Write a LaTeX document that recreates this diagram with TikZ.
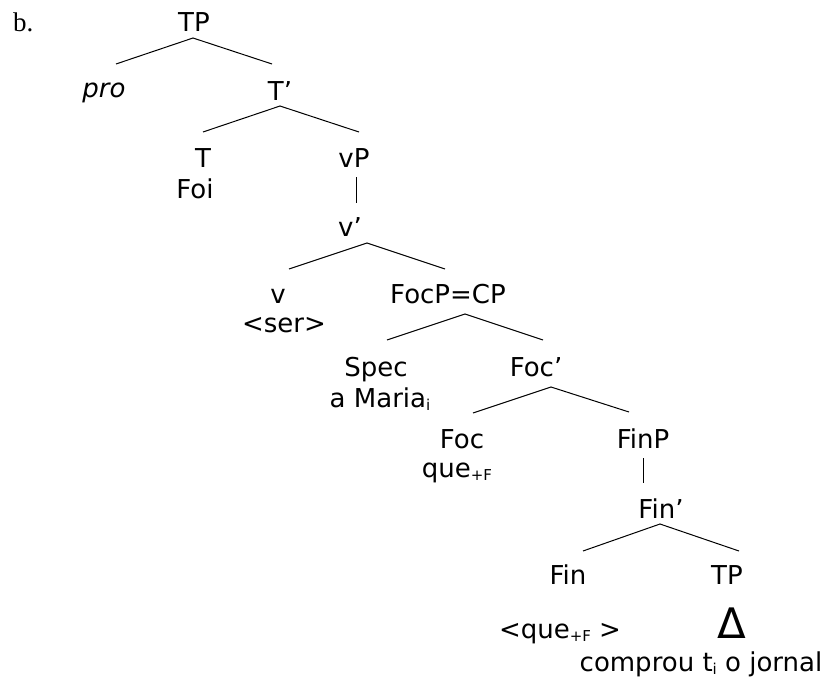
\documentclass[tikz,border=0pt]{standalone}
\usepackage{fontspec}
\setmainfont{DejaVu Sans}
\newfontfamily\exserif{Liberation Serif}
\newcommand{\lsub}[1]{\raisebox{-3.5pt}{\fontsize{15}{15}\selectfont #1}}
\begin{document}
\begin{tikzpicture}[x=1pt,y=1pt,
  lab/.style={anchor=base,inner sep=0pt,font=\fontsize{26}{31}\selectfont},
  edge/.style={line width=1pt}]
\useasboundingbox (0,0) rectangle (835,-683);
% labels
\node[anchor=base west,inner sep=0pt,font=\exserif\fontsize{27}{31}\selectfont] (ex) at (13,-31) {b.};
\node[lab] (TP) at (194,-31) {TP};
\node[lab] (pro) at (104,-97) {\itshape pro};
\node[lab] (Tbar) at (280,-100) {T’};
\node[lab] (T) at (203,-167) {T};
\node[lab] (Foi) at (195,-198) {Foi};
\node[lab] (vP) at (354,-167) {vP};
\node[lab] (vbar) at (350,-236) {v’};
\node[lab] (v) at (278,-303) {v};
\node[lab] (ser) at (284,-332) {<ser>};
\node[lab] (FocP) at (448,-303) {FocP=CP};
\node[lab] (Spec) at (376,-376) {Spec};
\node[lab] (Maria) at (380,-407) {a Maria\lsub{i}};
\node[lab] (Focbar) at (536,-376) {Foc’};
\node[lab] (Foc) at (462,-448) {Foc};
\node[lab] (que) at (457,-477) {que\lsub{+F}};
\node[lab] (FinP) at (643,-448) {FinP};
\node[lab] (Finbar) at (661,-518) {Fin’};
\node[lab] (Fin) at (568,-584) {Fin};
\node[lab] (TPb) at (727,-584) {TP};
\node[lab] (que2) at (560,-638) {<que\lsub{+F} >};
\node[lab,font=\fontsize{42}{46}\selectfont] (Delta) at (732,-638) {Δ};
\node[lab] (comp) at (701,-671) {comprou t\lsub{i} o jornal};
% branches
\draw[edge] ([shift={(12,33)}]pro.base) -- ([shift={(-1,-7)}]TP.base) -- ([shift={(-8,36)}]Tbar.base);
\draw[edge] ([shift={(0,35)}]T.base) -- ([shift={(0,-6)}]Tbar.base) -- ([shift={(5,35)}]vP.base);
\draw[edge] ([shift={(2,-10)}]vP.base) -- ([shift={(6,33)}]vbar.base);
\draw[edge] ([shift={(11,34)}]v.base) -- ([shift={(17,-7)}]vbar.base) -- ([shift={(-3,34)}]FocP.base);
\draw[edge] ([shift={(11,36)}]Spec.base) -- ([shift={(17,-11)}]FocP.base) -- ([shift={(7,36)}]Focbar.base);
\draw[edge] ([shift={(11,35)}]Foc.base) -- ([shift={(15,-11)}]Focbar.base) -- ([shift={(-14,36)}]FinP.base);
\draw[edge] ([shift={(0,-10)}]FinP.base) -- ([shift={(-18,35)}]Finbar.base);
\draw[edge] ([shift={(15,33)}]Fin.base) -- ([shift={(-1,-6)}]Finbar.base) -- ([shift={(12,33)}]TPb.base);
\end{tikzpicture}
\end{document}
